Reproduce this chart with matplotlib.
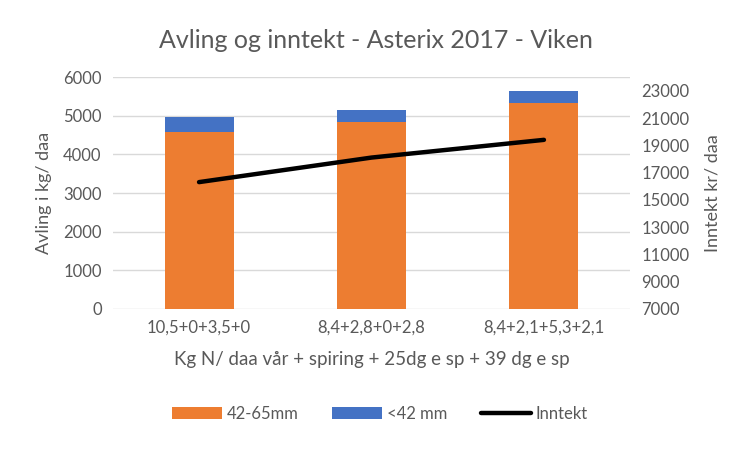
import matplotlib.pyplot as plt
import numpy as np

plt.rcParams['font.family'] = ['Lato', 'DejaVu Sans']

kategorier = ['10,5+0+3,5+0', '8,4+2,8+0+2,8', '8,4+2,1+5,3+2,1']
avling_42_65 = [4570, 4830, 5340]
avling_under42 = [410, 310, 310]
inntekt = [16300, 18100, 19400]

grey = '#595959'
fig = plt.figure(figsize=(7.52, 4.51), dpi=100)
ax = fig.add_axes([0.150, 0.315, 0.688, 0.514])
x = np.arange(len(kategorier))

b1 = ax.bar(x, avling_42_65, width=0.4, color='#ED7D31', zorder=2, label='42-65mm')
b2 = ax.bar(x, avling_under42, width=0.4, bottom=avling_42_65, color='#4472C4', zorder=2, label='<42 mm')

ax.set_ylim(0, 6000)
ax.set_xlim(-0.5, 2.5)
ax.set_yticks(range(0, 6001, 1000))
ax.yaxis.grid(True, color='#D9D9D9', linewidth=1, zorder=0)
ax.set_axisbelow(True)
for s in ax.spines.values():
    s.set_visible(False)
ax.tick_params(length=0, labelsize=12, colors=grey, pad=8)
ax.set_xticks(x)
ax.set_xticklabels(kategorier)
ax.set_ylabel('Avling i kg/ daa', fontsize=13, color=grey, labelpad=8)
ax.set_xlabel('Kg N/ daa vår + spiring + 25dg e sp + 39 dg e sp', fontsize=13.5, color=grey, labelpad=11)

ax2 = ax.twinx()
l1, = ax2.plot(x, inntekt, color='black', linewidth=3.2, solid_capstyle='round', label='Inntekt', zorder=3)
ax2.set_ylim(7000, 24000)
ax2.set_yticks(range(7000, 23001, 2000))
for s in ax2.spines.values():
    s.set_visible(False)
ax2.tick_params(length=0, labelsize=12, colors=grey, pad=8)
ax2.set_ylabel('Inntekt kr/ daa', fontsize=13, color=grey, labelpad=11)

fig.suptitle('Avling og inntekt - Asterix 2017 - Viken', fontsize=18, color=grey, y=0.935)
fig.legend(handles=[b1, b2, l1], loc='center', bbox_to_anchor=(0.505, 0.083), ncol=3,
           frameon=False, fontsize=12, labelcolor=grey, handlelength=3.0, columnspacing=2.0,
           handletextpad=0.3)

fig.savefig('out.png', dpi=100)
